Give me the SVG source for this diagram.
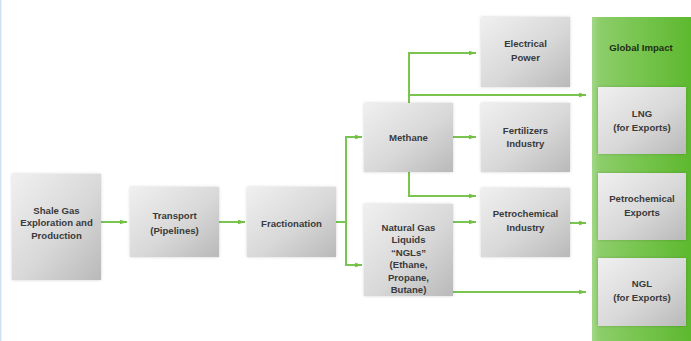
<svg xmlns="http://www.w3.org/2000/svg" width="691" height="341" viewBox="0 0 691 341">
<defs>
<linearGradient id="boxg" x1="0" y1="0" x2="1" y2="1">
<stop offset="0" stop-color="#f0f0f0"/>
<stop offset="0.55" stop-color="#d8d8d8"/>
<stop offset="1" stop-color="#b9b9b9"/>
</linearGradient>
<linearGradient id="panelg" x1="0" y1="0" x2="1" y2="0">
<stop offset="0" stop-color="#a3d789"/>
<stop offset="0.08" stop-color="#8ccd69"/>
<stop offset="1" stop-color="#5db92e"/>
</linearGradient>
<filter id="sh" x="-10%" y="-10%" width="120%" height="120%">
<feDropShadow dx="0" dy="0" stdDeviation="1.5" flood-color="#000" flood-opacity="0.18"/>
</filter>
<marker id="ah" viewBox="0 0 8 6" refX="7.5" refY="3" markerWidth="8" markerHeight="6" markerUnits="userSpaceOnUse" orient="auto">
<path d="M0,0.5 L8,3 L0,5.5 Z" fill="#74c046"/>
</marker>
</defs>
<style>
.box{fill:url(#boxg);filter:url(#sh);}
.t{font-family:"Liberation Sans",Arial,sans-serif;font-size:9.6px;font-weight:bold;fill:#3a3a3a;text-anchor:middle;}
.title{fill:#1e2e14;}
.c{fill:none;stroke:#7ac450;stroke-width:2;}
.a{marker-end:url(#ah);}
</style>
<rect x="0" y="0" width="691" height="341" fill="#ffffff"/>
<rect x="0" y="0" width="1.5" height="341" fill="#d3e2f2"/>

<g id="global-impact">
<rect x="592" y="17" width="99" height="324" fill="url(#panelg)"/>
<text class="t title" x="641" y="51">Global Impact</text>
</g>

<g id="connectors">
<path class="c a" d="M101,222 H127"/>
<path class="c a" d="M219,222 H245"/>
<path class="c" d="M336,222 H346"/>
<path class="c a" d="M346,137 H362"/>
<path class="c" d="M346,136 V266"/>
<path class="c a" d="M346,265 H362"/>
<path class="c a" d="M453,137 H476"/>
<path class="c a" d="M409,103 V53 H476"/>
<path class="c a" d="M409,95 H586"/>
<path class="c a" d="M409,172 V196 H476"/>
<path class="c a" d="M453,222 H476"/>
<path class="c a" d="M453,292 H586"/>
<path class="c a" d="M570,223 H586"/>
</g>

<g id="shale-gas">
<rect class="box" x="12" y="174" width="89" height="106"/>
<text class="t" x="56.5" y="213.5">Shale Gas</text>
<text class="t" x="56.5" y="226">Exploration and</text>
<text class="t" x="56.5" y="238.5">Production</text>
</g>

<g id="transport">
<rect class="box" x="130" y="187" width="89" height="70"/>
<text class="t" x="174.5" y="218.5">Transport</text>
<text class="t" x="174.5" y="233.5">(Pipelines)</text>
</g>

<g id="fractionation">
<rect class="box" x="247" y="187" width="89" height="70"/>
<text class="t" x="291.5" y="226.5">Fractionation</text>
</g>

<g id="methane">
<rect class="box" x="364" y="103" width="89" height="69"/>
<text class="t" x="408.5" y="140.5">Methane</text>
</g>

<g id="ngl">
<rect class="box" x="364" y="204" width="89" height="92"/>
<text class="t" x="408.5" y="230.5">Natural Gas</text>
<text class="t" x="408.5" y="243">Liquids</text>
<text class="t" x="408.5" y="255.5">“NGLs”</text>
<text class="t" x="408.5" y="268">(Ethane,</text>
<text class="t" x="408.5" y="280.5">Propane,</text>
<text class="t" x="408.5" y="293">Butane)</text>
</g>

<g id="electrical-power">
<rect class="box" x="481" y="17" width="89" height="70"/>
<text class="t" x="525.5" y="46.5">Electrical</text>
<text class="t" x="525.5" y="61">Power</text>
</g>

<g id="fertilizers">
<rect class="box" x="481" y="103" width="89" height="69"/>
<text class="t" x="525.5" y="133.5">Fertilizers</text>
<text class="t" x="525.5" y="146.5">Industry</text>
</g>

<g id="petrochemical-industry">
<rect class="box" x="481" y="188" width="89" height="69"/>
<text class="t" x="525.5" y="216.5">Petrochemical</text>
<text class="t" x="525.5" y="230.5">Industry</text>
</g>

<g id="lng-exports">
<rect class="box" x="598" y="87" width="88" height="67"/>
<text class="t" x="642" y="116.5">LNG</text>
<text class="t" x="642" y="130.5">(for Exports)</text>
</g>

<g id="petrochemical-exports">
<rect class="box" x="598" y="173" width="88" height="67"/>
<text class="t" x="642" y="201.5">Petrochemical</text>
<text class="t" x="642" y="215.5">Exports</text>
</g>

<g id="ngl-exports">
<rect class="box" x="598" y="258" width="88" height="68"/>
<text class="t" x="642" y="286.5">NGL</text>
<text class="t" x="642" y="300.5">(for Exports)</text>
</g>
</svg>
